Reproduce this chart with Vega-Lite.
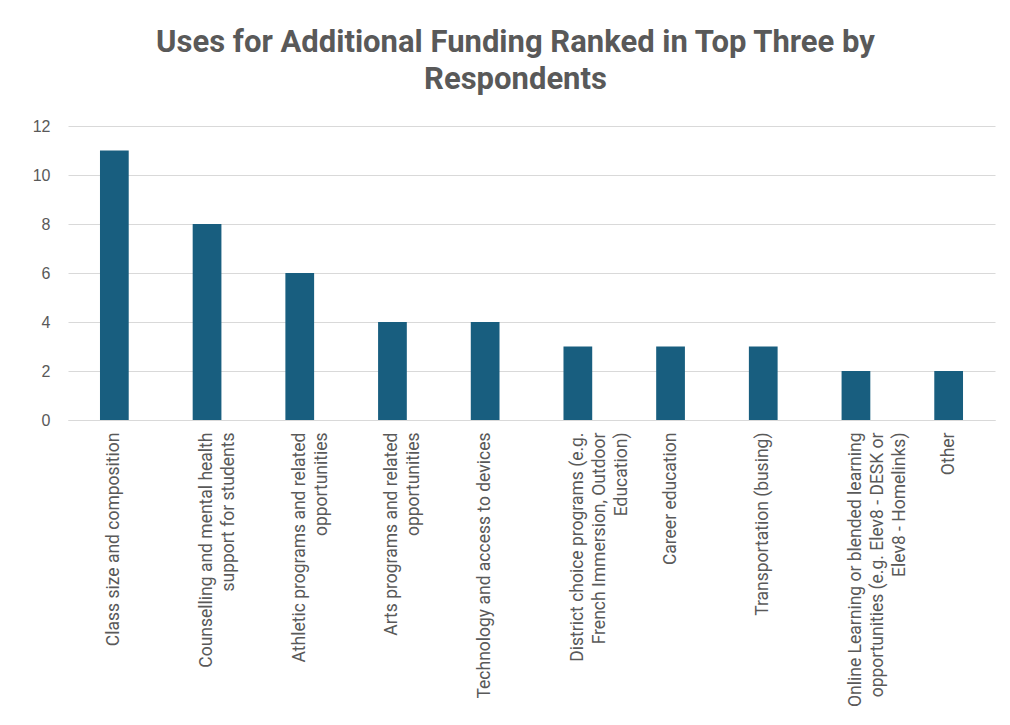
{
  "$schema": "https://vega.github.io/schema/vega-lite/v6.json",
  "autosize": {"type": "none"},
  "padding": {"left": 68, "top": 126, "right": 15, "bottom": 305},
  "width": 927,
  "height": 294,
  "background": "white",
  "title": {
    "text": ["Uses for Additional Funding Ranked in Top Three by", "Respondents"],
    "font": "Roboto",
    "fontSize": 31,
    "fontWeight": "bold",
    "color": "#595959",
    "anchor": "middle",
    "dx": -16,
    "offset": 22,
    "lineHeight": 37
  },
  "data": {
    "values": [
      {"use": "Class size and composition", "count": 11},
      {"use": "Counselling and mental health support for students", "count": 8},
      {"use": "Athletic programs and related opportunities", "count": 6},
      {"use": "Arts programs and related opportunities", "count": 4},
      {"use": "Technology and access to devices", "count": 4},
      {"use": "District choice programs (e.g. French Immersion, Outdoor Education)", "count": 3},
      {"use": "Career education", "count": 3},
      {"use": "Transportation (busing)", "count": 3},
      {"use": "Online Learning or blended learning opportunities (e.g. Elev8 - DESK or Elev8 - Homelinks)", "count": 2},
      {"use": "Other", "count": 2}
    ]
  },
  "mark": {"type": "bar", "color": "#185e7f", "width": {"band": 0.31}},
  "encoding": {
    "x": {
      "field": "use",
      "type": "nominal",
      "sort": null,
      "scale": {"paddingInner": 0, "paddingOuter": 0},
      "axis": {
        "title": null,
        "labelAngle": -90,
        "labelFont": "Roboto",
        "labelFontSize": 17.5,
        "labelColor": "#595959",
        "labelPadding": 12,
        "labelLineHeight": 22,
        "labelLimit": 0,
        "labelExpr": "split(replace(replace(replace(replace(datum.label, 'mental health support', 'mental health|support'), 'related opportunities', 'related|opportunities'), '(e.g. French Immersion, Outdoor Education)', '(e.g.|French Immersion, Outdoor|Education)'), 'learning opportunities (e.g. Elev8 - DESK or Elev8', 'learning|opportunities (e.g. Elev8 - DESK or|Elev8'), '|')",
        "ticks": false,
        "domainColor": "#d9d9d9",
        "domainWidth": 1
      }
    },
    "y": {
      "field": "count",
      "type": "quantitative",
      "scale": {"domain": [0, 12]},
      "axis": {
        "title": null,
        "values": [0, 2, 4, 6, 8, 10, 12],
        "labelFont": "Liberation Sans",
        "labelFontSize": 16,
        "labelColor": "#595959",
        "labelPadding": 18,
        "ticks": false,
        "domain": false,
        "gridColor": "#d9d9d9",
        "gridWidth": 1
      }
    }
  },
  "config": {"view": {"stroke": null}}
}
